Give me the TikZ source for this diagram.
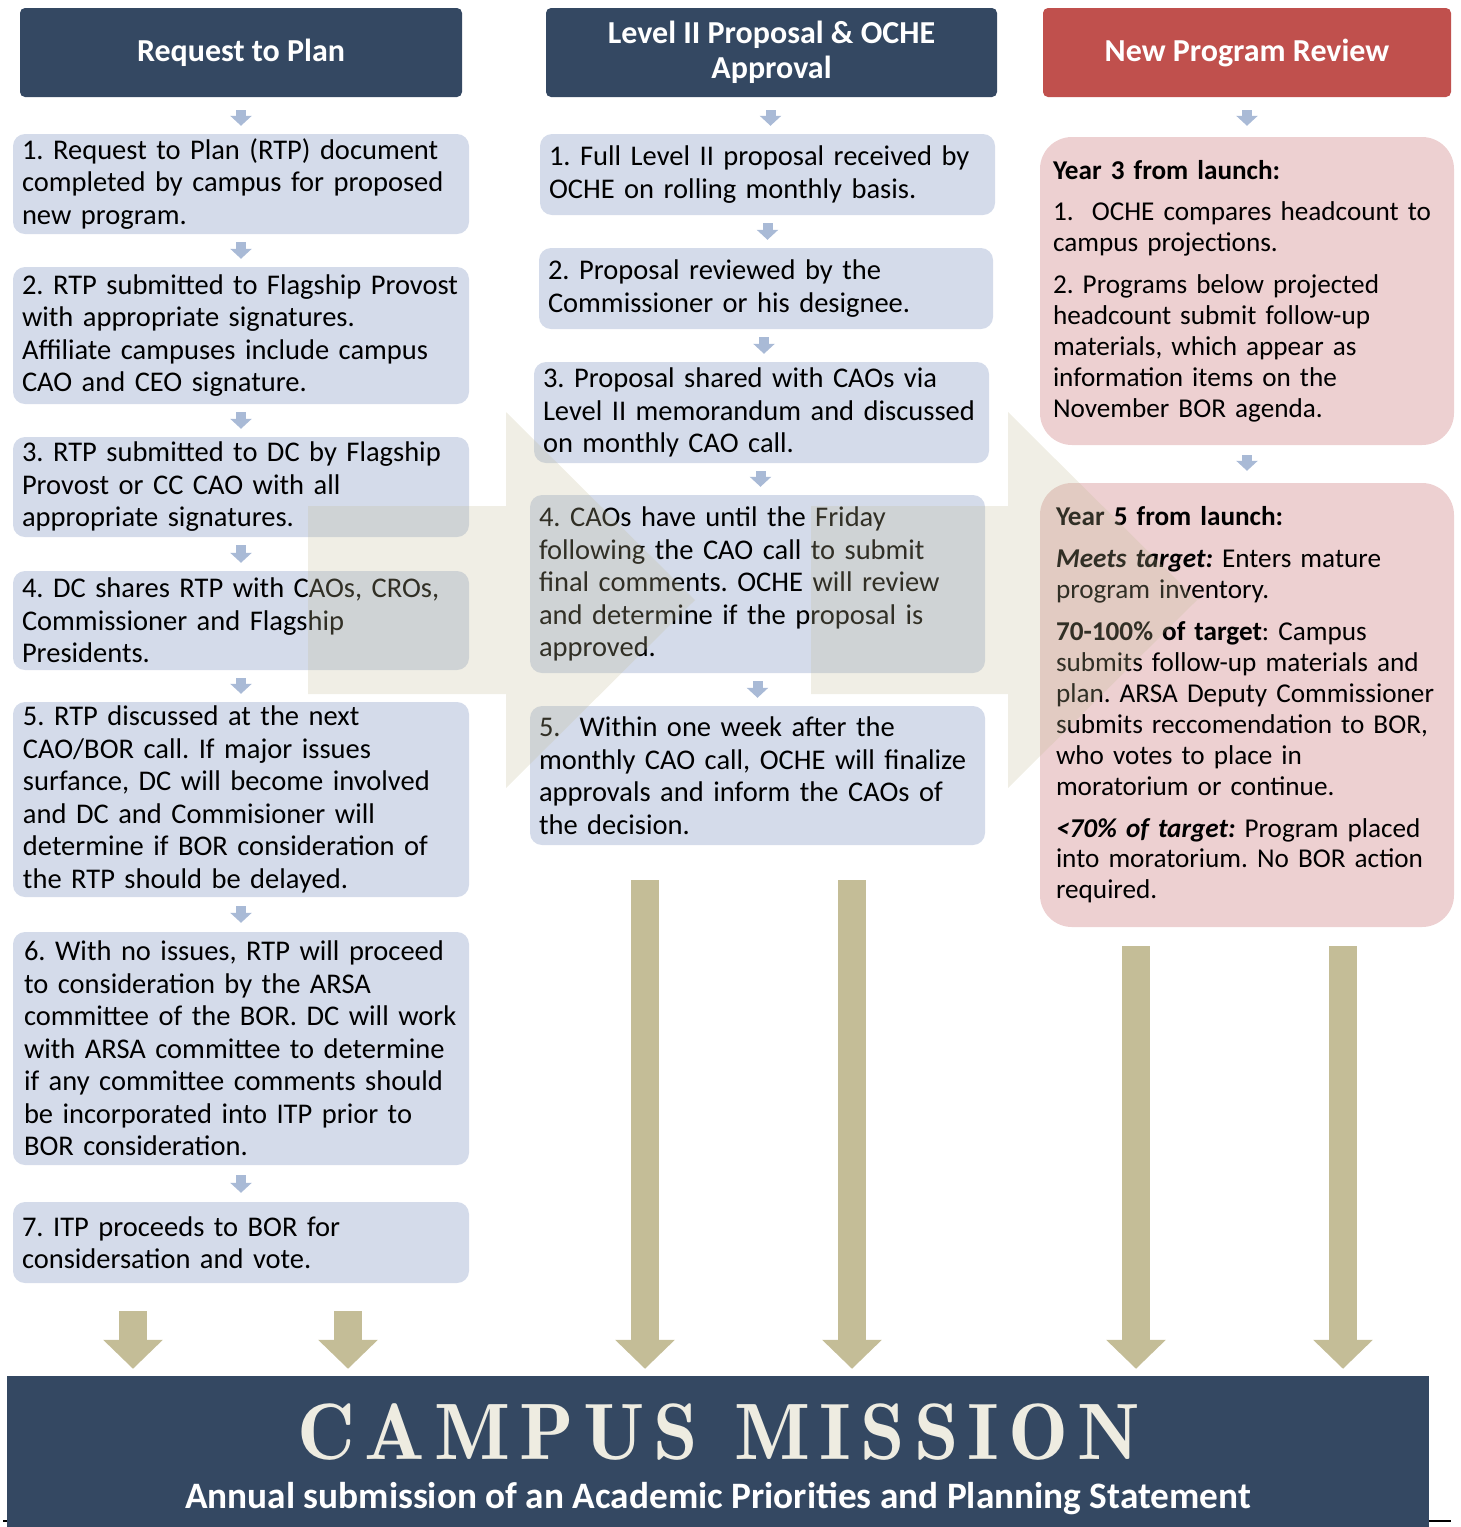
\documentclass[tikz,border=0pt]{standalone}
\usepackage{fontspec}
\setmainfont{Carlito}
\newfontfamily\missionfont{lmromandemi10-regular.otf}[LetterSpace=11.5]
\usetikzlibrary{arrows.meta,calc}
\frenchspacing
\definecolor{navy}{HTML}{344862}
\definecolor{hdrred}{HTML}{C0504D}
\definecolor{boxblue}{HTML}{D4DBEA}
\definecolor{boxpink}{HTML}{EDD0D1}
\definecolor{arrblue}{HTML}{A9BAD6}
\definecolor{tanc}{HTML}{C4BD97}
\definecolor{cream}{HTML}{EEECE1}
\tikzset{
  hdr/.style={fill=navy, rounded corners=5pt, text=white, align=center, inner sep=0pt,
    font=\bfseries\fontsize{32}{35}\selectfont, minimum height=89pt},
  bbox/.style={fill=boxblue, rounded corners=12pt, align=left, inner xsep=9pt, inner ysep=0pt,
    font=\fontsize{28.5}{32.5}\selectfont, text=black},
  pbox/.style={fill=boxpink, rounded corners=32pt, align=left, inner xsep=15pt, inner ysep=0pt,
    font=\fontsize{27.2}{30.9}\selectfont, text=black, text width=384pt, minimum height=#1},
  sarr/.style={draw=arrblue, line width=10pt, -{Triangle[width=21pt,length=10pt]}},
  barr/.style={draw=tanc, line width=28pt, -{Triangle[width=58pt,length=29pt]}},
  bgarrow/.style={fill=tanc, opacity=0.25}
}
\begin{document}
\begin{tikzpicture}[x=1pt,y=-1pt]
\useasboundingbox (0,0) rectangle (1461,1527);

% ---------- column 1
\node[hdr, minimum width=442pt] (h1) at (241,52.5) {Request to Plan};
\node[bbox, text width=438pt, minimum height=100pt] (a1) at (241,184)
  {1. Request to Plan (RTP) document\\completed by campus for proposed\\new program.};
\node[bbox, text width=438pt, minimum height=137pt] (a2) at (241,335.5)
  {2. RTP submitted to Flagship Provost\\with appropriate signatures.\\Affiliate campuses include campus\\CAO and CEO signature.};
\node[bbox, text width=438pt, minimum height=100pt] (a3) at (241,487)
  {3. RTP submitted to DC by Flagship\\Provost or CC CAO with all\\appropriate signatures.};
\node[bbox, text width=438pt, minimum height=99pt] (a4) at (241,620.5)
  {4. DC shares RTP with CAOs, CROs,\\Commissioner and Flagship\\Presidents.};
\node[bbox, text width=436pt, inner xsep=10pt, minimum height=195pt] (a5) at (241,799.5)
  {5. RTP discussed at the next\\CAO/BOR call. If major issues\\surfance, DC will become involved\\and DC and Commisioner will\\determine if BOR consideration of\\the RTP should be delayed.};
\node[bbox, text width=434pt, inner xsep=11pt, minimum height=233pt] (a6) at (241,1048.5)
  {6. With no issues, RTP will proceed\\to consideration by the ARSA\\committee of the BOR. DC will work\\with ARSA committee to determine\\if any committee comments should\\be incorporated into ITP prior to\\BOR consideration.};
\node[bbox, text width=438pt, minimum height=81pt] (a7) at (241,1242.5)
  {7. ITP proceeds to BOR for\\considersation and vote.};

% ---------- column 2
\node[hdr, minimum width=451pt] (h2) at (771.5,52.5) {Level II Proposal \& OCHE\\Approval};
\node[bbox, text width=437pt, minimum height=81pt] (b1) at (767.5,174.5)
  {1. Full Level II proposal received by\\OCHE on rolling monthly basis.};
\node[bbox, text width=436pt, minimum height=81pt] (b2) at (766,288.5)
  {2. Proposal reviewed by the\\Commissioner or his designee.};
\node[bbox, text width=437pt, minimum height=101pt] (b3) at (761.5,412.5)
  {3. Proposal shared with CAOs via\\Level II memorandum and discussed\\on monthly CAO call.};
\node[bbox, text width=437pt, minimum height=178pt] (b4) at (757.5,584)
  {4. CAOs have until the Friday\\following the CAO call to submit\\final comments. OCHE will review\\and determine if the proposal is\\approved.};
\node[bbox, text width=437pt, minimum height=139pt] (b5) at (757.5,775.5)
  {5.\ \ Within one week after the\\monthly CAO call, OCHE will finalize\\approvals and inform the CAOs of\\the decision.};

% ---------- column 3
\node[hdr, fill=hdrred, minimum width=408pt] (h3) at (1247,52.5) {New Program Review};
\node[pbox=308pt, inner xsep=13pt, text width=388pt] (c1) at (1247,291)
  {\textbf{Year 3 from launch:}\\[11pt]
   1.\ \ OCHE compares headcount to\\campus projections.\\[11pt]
   2. Programs below projected\\headcount submit follow-up\\materials, which appear as\\information items on the\\November BOR agenda.};
\node[pbox=444pt, inner xsep=16pt, text width=382pt] (c2) at (1247,705)
  {\textbf{Year 5 from launch:}\\[11pt]
   \textbf{\textit{Meets target:}} Enters mature\\program inventory.\\[11pt]
   \textbf{70-100\% of target}: Campus\\submits follow-up materials and\\plan. ARSA Deputy Commissioner\\submits reccomendation to BOR,\\who votes to place in\\moratorium or continue.\\[11pt]
   \textbf{\textit{<70\% of target:}} Program placed\\into moratorium. No BOR action\\required.};

% ---------- small connectors
\draw[sarr] ($(h1.south)+(0,13)$) -- ($(h1.south |- a1.north)+(0,-8)$);
\draw[sarr] ($(a1.south)+(0,8)$) -- ($(a1.south |- a2.north)+(0,-8)$);
\draw[sarr] ($(a2.south)+(0,8)$) -- ($(a2.south |- a3.north)+(0,-8)$);
\draw[sarr] ($(a3.south)+(0,8)$) -- ($(a3.south |- a4.north)+(0,-8)$);
\draw[sarr] ($(a4.south)+(0,8)$) -- ($(a4.south |- a5.north)+(0,-8)$);
\draw[sarr] ($(a5.south)+(0,9)$) -- ($(a5.south |- a6.north)+(0,-9)$);
\draw[sarr] ($(a6.south)+(0,10)$) -- ($(a6.south |- a7.north)+(0,-9)$);

\draw[sarr] ($(h2.south)+(-1,13)$) -- ($(h2.south |- b1.north)+(-1,-8)$);
\draw[sarr] ($(b1.south)+(0,8)$) -- ($(b1.south |- b2.north)+(0,-8)$);
\draw[sarr] ($(b2.south)+(-2,8)$) -- ($(b2.south |- b3.north)+(-2,-8)$);
\draw[sarr] ($(b3.south)+(-1,8)$) -- ($(b3.south |- b4.north)+(-1,-8)$);
\draw[sarr] ($(b4.south)+(0,8)$) -- ($(b4.south |- b5.north)+(0,-8)$);

\draw[sarr] ($(h3.south)+(0,13)$) -- ($(h3.south |- c1.north)+(0,-11)$);
\draw[sarr] ($(c1.south)+(0,10)$) -- ($(c1.south |- c2.north)+(0,-12)$);

% ---------- page rule and banner
\draw[line width=1.5pt] (3,1521) -- (1451,1521);
\node[fill=navy, minimum width=1422pt, minimum height=151pt, inner sep=0pt] (banner) at (718,1451.5) {};
\node[text=cream, inner sep=0pt, font=\missionfont\fontsize{80}{84}\selectfont] (mission) at (719,1432) {CAMPUS MISSION};
\node[text=white, inner sep=0pt, font=\bfseries\fontsize{37.3}{40}\selectfont] (subtitle) at (718,1499) {Annual submission of an Academic Priorities and Planning Statement};

% ---------- big connectors into the banner
\coordinate (t1) at ($(a7.south)+(-108,28)$);
\coordinate (t2) at ($(a7.south)+(107,28)$);
\coordinate (t3) at ($(b5.south)+(-112.5,35)$);
\coordinate (t4) at ($(b5.south)+(94.5,35)$);
\coordinate (t5) at ($(c2.south)+(-111,19)$);
\coordinate (t6) at ($(c2.south)+(96,19)$);
\foreach \t in {t1,t2,t3,t4,t5,t6}
  \draw[barr] (\t) -- ($(\t |- banner.north)+(0,-7)$);

% ---------- translucent background arrows
\fill[bgarrow] (308,506) -- (506,506) -- (506,412) -- (695,600) -- (506,788) -- (506,694) -- (308,694) -- cycle;
\fill[bgarrow] (811,506) -- (1008,506) -- (1008,412) -- (1197,600) -- (1008,788) -- (1008,694) -- (811,694) -- cycle;
\end{tikzpicture}
\end{document}
